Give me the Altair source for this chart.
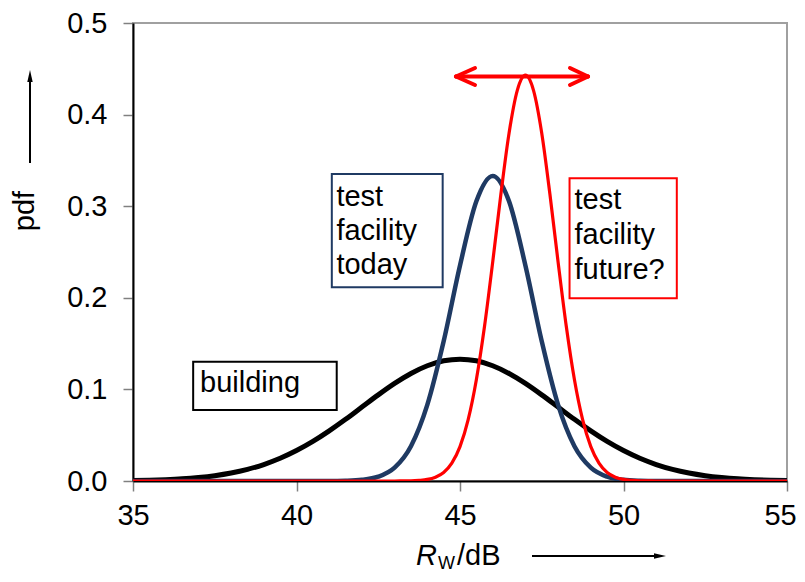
import altair as alt
import pandas as pd

# ---- data ----
x_building = [35 + 0.5 * i for i in range(41)]
y_building = [0.0005, 0.0009, 0.0015, 0.0024, 0.0038, 0.0058, 0.0087, 0.0127, 0.0180, 0.0248,
              0.0332, 0.0432, 0.0547, 0.0673, 0.0807, 0.0940, 0.1065, 0.1174, 0.1258, 0.1312,
              0.1330,
              0.1312, 0.1258, 0.1174, 0.1065, 0.0940, 0.0807, 0.0673, 0.0547, 0.0432, 0.0332,
              0.0248, 0.0180, 0.0127, 0.0087, 0.0058, 0.0038, 0.0024, 0.0015, 0.0009, 0.0005]

x_today = [35, 38, 41, 41.5, 42, 42.5, 43, 43.5, 44, 44.5, 45, 45.5, 46,
           46.5, 47, 47.5, 48, 48.5, 49, 49.5, 50, 50.5, 51, 54, 55]
y_today = [0.0, 0.0, 0.0, 0.0003, 0.0013, 0.0047, 0.0146, 0.0380, 0.0831, 0.1525, 0.2353, 0.3053, 0.3330,
           0.3053, 0.2353, 0.1525, 0.0831, 0.0380, 0.0146, 0.0047, 0.0013, 0.0003, 0.0, 0.0, 0.0]

x_future = [35, 40, 43, 43.25, 43.5, 43.75, 44, 44.25, 44.5, 44.75, 45, 45.25, 45.5, 45.75, 46, 46.25, 46.5, 46.75,
            47,
            47.25, 47.5, 47.75, 48, 48.25, 48.5, 48.75, 49, 49.25, 49.5, 49.75, 50, 50.25, 50.5, 50.75, 51, 54, 55]
y_future = [0.0, 0.0, 0.0, 0.0001, 0.0002, 0.0007, 0.0017, 0.0042, 0.0093, 0.0195, 0.0375, 0.0669, 0.1105, 0.1689,
            0.2390, 0.3130, 0.3797, 0.4262,
            0.4430,
            0.4262, 0.3797, 0.3130, 0.2390, 0.1689, 0.1105, 0.0669, 0.0375, 0.0195, 0.0093, 0.0042, 0.0017,
            0.0007, 0.0002, 0.0001, 0.0, 0.0, 0.0]

x_ticks = [35, 40, 45, 50, 55]
y_ticks = [0.0, 0.1, 0.2, 0.3, 0.4, 0.5]

FONT = "Liberation Sans"
FS = 29

df = pd.concat([
    pd.DataFrame({"x": x_building, "y": y_building, "s": "building"}),
    pd.DataFrame({"x": x_today, "y": y_today, "s": "today"}),
    pd.DataFrame({"x": x_future, "y": y_future, "s": "future"}),
])

xscale = alt.Scale(domain=[35, 55], nice=False, zero=False)
yscale = alt.Scale(domain=[0, 0.5], nice=False)

xaxis = alt.Axis(values=x_ticks, format="d", title=None, grid=False, domainColor="black", domainWidth=2,
                 tickColor="#808080", tickSize=10, tickWidth=1.5, labelFont=FONT, labelFontSize=FS,
                 labelColor="black", labelPadding=10, labelFlush=False, labelOverlap=False,
                 labelOffset=alt.condition("datum.value == 55", alt.value(-7), alt.value(0)))
yaxis = alt.Axis(values=y_ticks, format=".1f", title=None, grid=False, domainColor="black", domainWidth=2,
                 tickColor="#808080", tickSize=10, tickWidth=1.5, labelFont=FONT, labelFontSize=FS,
                 labelColor="black", labelPadding=16, labelFlush=False, labelOverlap=False)

def curve(name, color, width):
    return alt.Chart(df[df["s"] == name]).mark_line(
        color=color, strokeWidth=width, interpolate="monotone", clip=True
    ).encode(
        x=alt.X("x:Q", scale=xscale, axis=xaxis),
        y=alt.Y("y:Q", scale=yscale, axis=yaxis),
    )

lines = [curve("building", "#000000", 5), curve("today", "#1f3a63", 4.5), curve("future", "#ff0000", 3.2)]

# annotation boxes (data coordinates)
boxes = pd.DataFrame({
    "x": [36.84, 41.08, 48.35],
    "x2": [41.23, 44.47, 51.63],
    "y": [0.0775, 0.2115, 0.1995],
    "y2": [0.1302, 0.3352, 0.3305],
    "c": ["#000000", "#1f3a63", "#ff0000"],
})
box_layer = alt.Chart(boxes).mark_rect(fill="white", strokeWidth=2).encode(
    x=alt.X("x:Q", scale=xscale), x2="x2:Q",
    y=alt.Y("y:Q", scale=yscale), y2="y2:Q",
    stroke=alt.Stroke("c:N", scale=None),
)

labels = pd.DataFrame({
    "x": [37.05, 41.22, 41.22, 41.22, 48.50, 48.50, 48.50],
    "y": [0.0972, 0.3002, 0.2631, 0.2260, 0.2969, 0.2587, 0.2205],
    "t": ["building", "test", "facility", "today", "test", "facility", "future?"],
})
label_layer = alt.Chart(labels).mark_text(
    font=FONT, fontSize=FS, align="left", baseline="alphabetic", color="black"
).encode(
    x=alt.X("x:Q", scale=xscale), y=alt.Y("y:Q", scale=yscale), text="t:N"
)

# red double arrow at the peak
arrow = pd.DataFrame({
    "x": [44.878, 44.878, 44.878, 48.914, 48.914],
    "x2": [48.914, 45.459, 45.459, 48.364, 48.364],
    "y": [0.4416, 0.4416, 0.4416, 0.4416, 0.4416],
    "y2": [0.4416, 0.4509, 0.4323, 0.4509, 0.4323],
})
arrow_layer = alt.Chart(arrow).mark_rule(color="#ff0000", strokeWidth=4, strokeCap="round").encode(
    x=alt.X("x:Q", scale=xscale), x2="x2:Q",
    y=alt.Y("y:Q", scale=yscale), y2="y2:Q",
)

dummy = pd.DataFrame({"a": [0]})

def txt(text, x, y, size=FS, **kw):
    return alt.Chart(dummy).mark_text(text=text, font=FONT, fontSize=size, color="black", **kw).encode(
        x=alt.value(x), y=alt.value(y))

x_title = [
    txt("R", 283, 542, FS, align="left", baseline="alphabetic", fontStyle="italic"),
    txt("W", 305, 546, 18, align="left", baseline="alphabetic"),
    txt("/dB", 324, 542, FS, align="left", baseline="alphabetic"),
]
y_title = txt("pdf", -108, 188, FS, align="center", baseline="middle", angle=270)

x_arrow_shaft = alt.Chart(dummy).mark_rule(color="black", strokeWidth=2).encode(
    x=alt.value(399), x2=alt.value(524), y=alt.value(533))
x_arrow_head = alt.Chart(dummy).mark_point(
    shape="M -1 -0.45 L 1 0 L -1 0.45 Z", filled=True, fill="black", stroke=None, size=144, opacity=1
).encode(x=alt.value(527), y=alt.value(533))

y_arrow_shaft = alt.Chart(dummy).mark_rule(color="black", strokeWidth=2).encode(
    x=alt.value(-103), y=alt.value(140), y2=alt.value(55))
y_arrow_head = alt.Chart(dummy).mark_point(
    shape="M -0.45 1 L 0 -1 L 0.45 1 Z", filled=True, fill="black", stroke=None, size=144, opacity=1
).encode(x=alt.value(-103), y=alt.value(53))

chart = alt.layer(
    *lines, box_layer, label_layer, arrow_layer,
    *x_title, y_title, x_arrow_shaft, x_arrow_head, y_arrow_shaft, y_arrow_head
).properties(
    width=654, height=458,
    padding={"left": 125, "top": 15, "right": 10, "bottom": 93},
    autosize=alt.AutoSizeParams(type="none"),
    background="white",
).configure_view(stroke="#a0a0a0", strokeWidth=2)

chart.save("out.html", embed_options={"renderer": "svg", "actions": False})
